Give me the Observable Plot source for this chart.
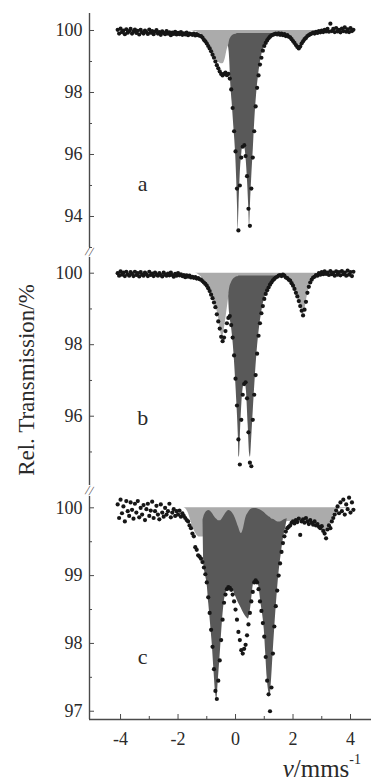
<!DOCTYPE html>
<html><head><meta charset="utf-8">
<script src="https://cdn.jsdelivr.net/npm/d3@7"></script>
<script src="https://cdn.jsdelivr.net/npm/@observablehq/plot@0.6"></script>
<style>
body{margin:0;background:#fff;}
#chart{position:relative;width:371px;height:783px;overflow:hidden;font-family:"Liberation Serif","Times New Roman",serif;color:#2a2a2a;}
#chart svg{position:absolute;left:0;}
.ylab{position:absolute;left:27px;top:380px;transform:translate(-50%,-50%) rotate(-90deg);white-space:nowrap;font-size:23px;}
.xlab{position:absolute;right:10px;top:756px;font-size:25px;line-height:1;white-space:nowrap;}
.xlab sup{font-size:14px;vertical-align:top;position:relative;top:-3px;}
</style></head>
<body><div id="chart"></div>
<script>
// ---- channel velocities (mm/s) shared by the three spectra ----
const velocity = [
-4.1,-4.05,-4,-3.95,-3.9,-3.85,-3.8,-3.75,-3.7,-3.65,
-3.6,-3.55,-3.5,-3.45,-3.4,-3.35,-3.3,-3.25,-3.2,-3.15,
-3.1,-3.05,-3,-2.95,-2.9,-2.85,-2.8,-2.75,-2.7,-2.65,
-2.6,-2.55,-2.5,-2.45,-2.4,-2.35,-2.3,-2.25,-2.2,-2.15,
-2.1,-2.05,-2,-1.95,-1.9,-1.85,-1.8,-1.75,-1.7,-1.65,
-1.6,-1.55,-1.5,-1.45,-1.4,-1.35,-1.3,-1.25,-1.2,-1.15,
-1.1,-1.05,-1,-0.95,-0.9,-0.85,-0.8,-0.75,-0.7,-0.65,
-0.6,-0.55,-0.5,-0.45,-0.4,-0.35,-0.3,-0.25,-0.2,-0.15,
-0.1,-0.05,0,0.05,0.1,0.15,0.2,0.25,0.3,0.35,
0.4,0.45,0.5,0.55,0.6,0.65,0.7,0.75,0.8,0.85,
0.9,0.95,1,1.05,1.1,1.15,1.2,1.25,1.3,1.35,
1.4,1.45,1.5,1.55,1.6,1.65,1.7,1.75,1.8,1.85,
1.9,1.95,2,2.05,2.1,2.15,2.2,2.25,2.3,2.35,
2.4,2.45,2.5,2.55,2.6,2.65,2.7,2.75,2.8,2.85,
2.9,2.95,3,3.05,3.1,3.15,3.2,3.25,3.3,3.35,
3.4,3.45,3.5,3.55,3.6,3.65,3.7,3.75,3.8,3.85,
3.9,3.95,4,4.05,4.1];

// ---- measured transmission (%) ----
const transA = [
100.02,99.9,100.06,99.95,100.0,99.88,100.04,99.93,99.98,100.05,
99.9,99.97,100.03,99.92,99.99,99.87,100.02,99.94,99.9,100.0,
99.95,99.89,100.03,99.93,99.98,99.88,99.96,100.01,99.9,99.95,
99.86,99.97,99.92,99.88,99.98,99.9,99.94,99.85,99.93,99.89,
99.96,99.87,99.92,99.88,99.95,99.86,99.91,99.87,99.93,99.85,
99.9,99.88,99.86,99.9,99.84,99.88,99.85,99.83,99.82,99.77,
99.7,99.65,99.58,99.5,99.42,99.33,99.22,99.12,99.0,98.88,
98.78,98.68,98.6,98.55,98.6,98.64,98.56,98.6,98.45,98.1,
97.5,96.75,96.1,94.9,93.55,95.0,95.9,96.25,96.3,95.95,
95.3,94.25,93.7,94.9,95.9,96.75,97.55,98.15,98.55,98.9,
99.12,99.35,99.5,99.6,99.68,99.75,99.8,99.84,99.86,99.88,
99.9,99.87,99.91,99.86,99.9,99.85,99.88,99.82,99.85,99.8,
99.78,99.72,99.66,99.6,99.53,99.47,99.42,99.48,99.58,99.65,
99.72,99.76,99.82,99.85,99.88,99.9,99.93,99.9,99.96,99.92,
99.98,99.94,100.0,99.95,100.02,99.97,100.05,99.96,100.22,99.98,
100.05,99.95,100.08,99.97,100.02,99.94,100.06,99.98,100.1,99.96,
100.04,99.95,100.08,99.98,100.02];
const transB = [
100.0,99.93,100.05,99.96,100.02,99.92,100.04,99.97,99.93,100.03,
99.98,99.92,100.04,99.95,100.0,99.91,100.03,99.96,99.93,100.02,
99.97,99.92,100.04,99.95,99.99,99.92,100.02,99.96,99.93,100.0,
99.95,99.91,100.02,99.96,99.93,99.99,99.94,100.02,99.95,99.9,
99.98,99.93,100.0,99.94,99.97,99.92,99.95,99.89,99.94,99.9,
99.93,99.88,99.9,99.87,99.89,99.85,99.86,99.83,99.82,99.78,
99.74,99.7,99.65,99.58,99.5,99.4,99.3,99.18,99.05,98.85,
98.65,98.45,98.22,98.1,98.2,98.38,98.6,98.75,98.8,98.55,
98.2,97.7,97.05,96.3,95.35,94.65,95.9,96.6,96.9,96.95,
96.5,95.55,94.7,94.6,95.9,96.6,97.15,97.75,98.25,98.6,
98.88,99.08,99.28,99.42,99.52,99.6,99.68,99.74,99.8,99.84,
99.88,99.9,99.93,99.95,99.92,99.96,99.93,99.88,99.86,99.82,
99.79,99.72,99.65,99.56,99.45,99.35,99.22,99.08,98.95,98.82,
98.98,99.2,99.45,99.62,99.74,99.82,99.88,99.9,99.95,99.93,
100.0,99.96,100.03,99.97,100.05,99.98,100.02,99.95,100.06,99.97,
100.02,99.93,100.05,99.96,100.03,99.94,100.06,99.97,100.02,99.93,
100.07,99.96,100.03,99.92,100.04];
const transC = [
100.05,99.85,100.12,99.92,100.02,99.8,100.1,99.95,99.88,100.08,
99.97,99.84,100.06,99.93,100.1,99.86,100.0,99.9,100.04,99.82,
99.98,100.06,99.88,99.96,100.09,99.85,99.95,100.03,99.9,99.83,
100.05,99.93,99.87,100.0,99.9,99.95,100.06,99.86,99.93,99.98,
99.88,99.95,99.9,99.96,99.87,99.92,99.88,99.85,99.82,99.8,
99.74,99.7,99.62,99.58,99.42,99.38,99.3,99.28,99.25,99.2,
99.12,99.02,98.9,98.68,98.45,98.2,97.95,97.62,97.3,97.18,
97.45,97.75,98.05,98.35,98.6,98.72,98.8,98.83,98.82,98.79,
98.72,98.62,98.5,98.35,98.17,98.05,97.9,97.85,97.92,97.98,
98.12,98.28,98.45,98.62,98.76,98.9,98.93,98.9,98.8,98.62,
98.48,98.3,98.1,97.8,97.45,97.25,97.0,97.35,97.85,98.25,
98.55,98.78,99.0,99.18,99.35,99.48,99.58,99.65,99.7,99.72,
99.74,99.78,99.8,99.77,99.82,99.79,99.84,99.6,99.8,99.83,
99.78,99.85,99.8,99.76,99.82,99.78,99.75,99.8,99.74,99.76,
99.72,99.7,99.73,99.66,99.62,99.55,99.68,99.74,99.7,99.8,
99.85,99.9,99.96,100.02,99.92,100.08,99.95,100.12,99.9,100.05,
99.98,100.15,99.93,100.08,99.97];

// ---- fitted sub-spectra (light = minor component, dark = main component) ----
const fitVelocityA = [-4.1,-1.6,-1.2,-1.0,-0.8,-0.7,-0.6,-0.5,-0.45,-0.4,-0.35,-0.3,-0.25,-0.22,-0.2,-0.17,-0.12,-0.06,0.0,0.04,0.07,0.09,0.12,0.16,0.22,0.29,0.36,0.42,0.46,0.49,0.52,0.56,0.62,0.67,0.73,0.8,0.9,1.0,1.15,1.4,1.7,1.9,2.0,2.1,2.2,2.3,2.4,2.6,3.0,3.3,4.1];
const lightA = [100,100,99.88,99.65,99.3,99.1,98.98,98.93,98.93,98.97,99.12,99.35,99.5,99.58,99.62,99.66,99.7,99.75,99.75,99.75,99.75,99.75,99.75,99.75,99.75,99.75,99.75,99.75,99.75,99.75,99.75,99.75,99.75,99.75,99.75,99.75,99.75,99.75,99.78,99.88,99.85,99.75,99.68,99.58,99.47,99.58,99.72,99.88,99.97,100,100];
const darkTopA = [null,null,null,null,null,null,null,null,null,null,null,null,99.5,99.62,99.7,99.76,99.82,99.86,99.88,99.89,99.9,99.9,99.9,99.9,99.9,99.9,99.9,99.9,99.9,99.9,99.9,99.9,99.9,99.9,99.9,99.9,99.9,99.9,99.9,99.9,null,null,null,null,null,null,null,null,null,null,null];
const darkBottomA = [null,null,null,null,null,null,null,null,null,null,null,null,99.5,99.3,99.0,98.35,97.7,96.9,96.1,95.2,94.3,93.55,94.3,95.3,96.05,96.35,95.95,95.1,94.3,93.65,94.4,95.2,96.2,97.1,97.9,98.55,99.15,99.5,99.75,99.9,null,null,null,null,null,null,null,null,null,null,null];

const fitVelocityB = [-4.1,-1.4,-1.2,-1.0,-0.85,-0.7,-0.6,-0.5,-0.46,-0.42,-0.35,-0.3,-0.24,-0.22,-0.2,-0.15,-0.1,-0.05,0.0,0.05,0.1,0.12,0.14,0.17,0.22,0.28,0.33,0.38,0.44,0.49,0.52,0.56,0.62,0.68,0.75,0.83,0.93,1.04,1.2,1.35,1.5,1.8,2.0,2.1,2.2,2.28,2.34,2.4,2.48,2.6,2.8,3.1,3.3,4.1];
const lightB = [100,100,99.9,99.7,99.45,99.1,98.8,98.3,98.18,98.3,98.65,98.95,99.3,99.42,99.45,99.5,99.55,99.55,99.55,99.55,99.55,99.55,99.55,99.55,99.55,99.55,99.55,99.55,99.55,99.55,99.55,99.55,99.55,99.55,99.55,99.55,99.55,99.55,99.72,99.86,99.93,99.85,99.68,99.48,99.25,99.0,98.85,98.95,99.3,99.68,99.9,99.98,100,100];
const darkTopB = [null,null,null,null,null,null,null,null,null,null,null,null,99.35,99.5,99.6,99.72,99.8,99.85,99.88,99.9,99.91,99.92,99.92,99.92,99.92,99.92,99.92,99.92,99.92,99.92,99.92,99.92,99.92,99.92,99.92,99.92,99.92,99.92,99.92,99.92,99.9,null,null,null,null,null,null,null,null,null,null,null,null,null];
const darkBottomB = [null,null,null,null,null,null,null,null,null,null,null,null,99.35,99.0,98.8,98.55,98.2,97.7,97.05,96.3,95.4,94.85,94.9,95.5,96.35,96.85,96.95,96.7,95.75,94.95,94.85,95.35,96.2,97.0,97.8,98.45,99.0,99.38,99.66,99.82,99.9,null,null,null,null,null,null,null,null,null,null,null,null,null];

const fitVelocityC = [-4.1,-1.8,-1.65,-1.55,-1.45,-1.35,-1.25,-1.15,-1.13,-1.1,-1.05,-0.99,-0.93,-0.87,-0.81,-0.75,-0.7,-0.65,-0.6,-0.52,-0.46,-0.4,-0.3,-0.23,-0.1,0.0,0.1,0.2,0.28,0.35,0.45,0.52,0.64,0.72,0.8,0.9,1.0,1.05,1.1,1.16,1.2,1.25,1.3,1.36,1.43,1.51,1.6,1.68,1.74,1.8,2.0,2.4,2.8,3.0,3.13,3.25,3.4,3.5,4.1];
const lightC = [100,100,99.93,99.8,99.68,99.6,99.57,99.57,99.57,99.57,99.55,99.55,99.55,99.55,99.55,99.55,99.55,99.55,99.55,99.55,99.55,99.55,99.55,99.55,99.55,99.55,99.55,99.55,99.55,99.55,99.55,99.55,99.55,99.55,99.55,99.55,99.55,99.55,99.55,99.55,99.55,99.55,99.55,99.55,99.55,99.55,99.6,99.65,99.75,99.8,99.8,99.8,99.76,99.72,99.62,99.72,99.88,99.97,100];
const darkTopC = [null,null,null,null,null,null,null,null,99.82,99.87,99.92,99.95,99.96,99.95,99.92,99.88,99.85,99.83,99.81,99.81,99.84,99.88,99.94,99.96,99.92,99.84,99.72,99.62,99.7,99.84,99.93,99.97,99.99,99.99,99.98,99.96,99.93,99.91,99.89,99.87,99.86,99.84,99.83,99.82,99.8,99.79,99.8,99.82,99.83,99.84,null,null,null,null,null,null,null,null,null];
const darkBottomC = [null,null,null,null,null,null,null,null,99.8,99.15,99.02,98.88,98.58,98.29,97.99,97.6,97.3,97.18,97.45,97.92,98.3,98.58,98.78,98.83,98.8,98.7,98.6,98.52,98.45,98.4,98.36,98.5,98.9,98.93,98.86,98.55,98.2,97.85,97.5,97.28,97.22,97.45,97.8,98.2,98.63,99.03,99.35,99.58,99.7,99.84,null,null,null,null,null,null,null,null,null];

// ---- ticks and texts ----
const BASELINE = 100;
const yTicksA = [94, 96, 98, 100], yMinorA = [93, 95, 97, 99];
const yTicksB = [96, 98, 100], yMinorB = [95, 97, 99];
const yTicksC = [97, 98, 99, 100], yMinorC = [97.5, 98.5, 99.5];
const xTicks = [-4, -2, 0, 2, 4], xMinor = [-3, -1, 1, 3];
const panelNames = ["a", "b", "c"];
const yTitle = "Rel. Transmission/%";

const X_DOMAIN = [-5.08, 4.73];
const FONT = '"Liberation Serif","Times New Roman",serif';
const AXIS = "#4a4a4a";

const toDots = (t) => velocity.map((v, i) => ({v, t: t[i]}));
const toFit = (vs, light, top, bottom) => vs.map((v, i) => ({v, light: light[i], top: top[i], bottom: bottom[i]}));

function panel(o) {
  const marks = [
    Plot.areaY(o.fit, {x: "v", y1: () => BASELINE, y2: "light", fill: "#ababab", curve: "monotone-x"}),
    Plot.areaY(o.fit, {x: "v", y1: "top", y2: "bottom", fill: "#595959", curve: "monotone-x"}),
    Plot.dot(o.dots, {x: "v", y: "t", r: 2.1, fill: "#161616"}),
    Plot.ruleX([X_DOMAIN[0]], {stroke: AXIS, strokeWidth: 1.4}),
    Plot.axisY(o.ticks, {anchor: "left", tickSize: 0, tickPadding: 7, fontSize: 18, tickFormat: d => String(d), label: null}),
    Plot.axisY(o.ticks, {anchor: "left", tickSize: -5, stroke: AXIS, tickFormat: () => "", label: null}),
    Plot.axisY(o.minor, {anchor: "left", tickSize: -3, stroke: AXIS, tickFormat: () => "", label: null}),
    Plot.text([o.name], {x: () => -3.23, y: () => o.labelY, fontSize: 22, textAnchor: "middle", lineAnchor: "middle"})
  ];
  if (o.breakMark) marks.push(Plot.text(["//"], {frameAnchor: "bottom-left", dy: o.breakDy, fontSize: 14, rotate: 12, fill: AXIS, textAnchor: "middle", lineAnchor: "middle"}));
  if (o.xAxis) {
    marks.push(
      Plot.ruleY([o.yDomain[0]], {stroke: AXIS, strokeWidth: 1.4}),
      Plot.axisX(xTicks, {anchor: "bottom", tickSize: 0, tickPadding: 13, fontSize: 18, tickFormat: d => String(d), label: null}),
      Plot.axisX(xTicks, {anchor: "bottom", tickSize: -5, stroke: AXIS, tickFormat: () => "", label: null}),
      Plot.axisX(xMinor, {anchor: "bottom", tickSize: -3, stroke: AXIS, tickFormat: () => "", label: null})
    );
  }
  const svg = Plot.plot({
    width: 371, height: o.height,
    marginLeft: 89, marginRight: 0, marginTop: o.marginTop, marginBottom: o.marginBottom,
    x: o.xAxis ? {domain: X_DOMAIN} : {domain: X_DOMAIN, axis: null},
    y: {domain: o.yDomain},
    style: {fontFamily: FONT, background: "transparent", color: "#2a2a2a", overflow: "visible"},
    marks
  });
  svg.style.top = o.top + "px";
  return svg;
}

const chart = document.getElementById("chart");
chart.append(panel({
  dots: toDots(transA), fit: toFit(fitVelocityA, lightA, darkTopA, darkBottomA),
  ticks: yTicksA, minor: yMinorA, name: panelNames[0], labelY: 95.06,
  top: 0, height: 258, marginTop: 13, marginBottom: 11, yDomain: [93.0, 100.548],
  breakMark: true, breakDy: 4
}));
chart.append(panel({
  dots: toDots(transB), fit: toFit(fitVelocityB, lightB, darkTopB, darkBottomB),
  ticks: yTicksB, minor: yMinorB, name: panelNames[1], labelY: 95.94,
  top: 256, height: 238, marginTop: 1, marginBottom: 9, yDomain: [94.062, 100.439],
  breakMark: true, breakDy: 5
}));
chart.append(panel({
  dots: toDots(transC), fit: toFit(fitVelocityC, lightC, darkTopC, darkBottomC),
  ticks: yTicksC, minor: yMinorC, name: panelNames[2], labelY: 97.8,
  top: 494, height: 289, marginTop: 2, marginBottom: 64, yDomain: [96.878, 100.167],
  xAxis: true
}));

const yl = document.createElement("div");
yl.className = "ylab"; yl.textContent = yTitle;
chart.append(yl);
const xl = document.createElement("div");
xl.className = "xlab";
xl.innerHTML = "<i>v</i>/mms<sup>-1</sup>";
chart.append(xl);
</script></body></html>
